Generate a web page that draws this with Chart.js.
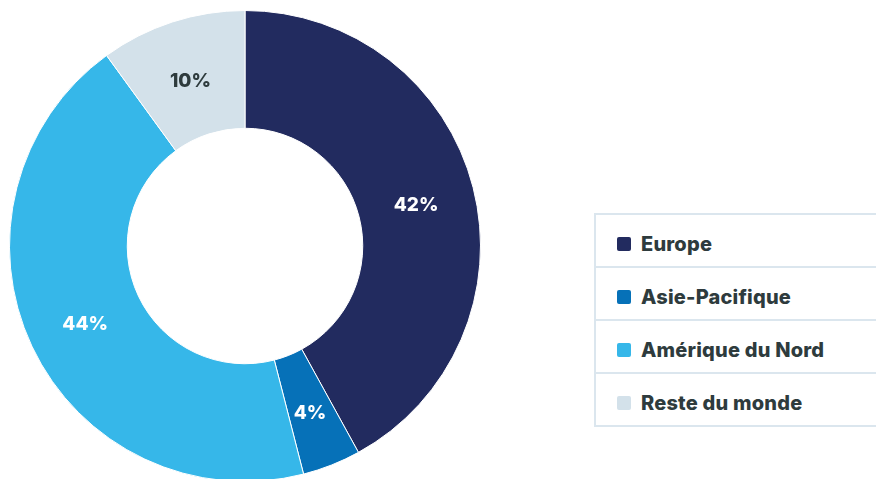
<!DOCTYPE html>
<html lang="fr">
<head>
<meta charset="utf-8">
<script src="https://cdn.jsdelivr.net/npm/chart.js"></script>
<style>
  html, body { margin: 0; padding: 0; background: #fff; overflow: hidden; }
  body { width: 876px; height: 479px; position: relative; font-family: "Inter", "Open Sans", sans-serif; }
  #wrap { position: absolute; left: 9px; top: 10px; width: 472px; height: 472px; }
  #legend {
    position: absolute; left: 594px; top: 213px; width: 290px;
    border: 2px solid #dbe6ee; border-right: none;
  }
  .row {
    height: 45px; display: flex; align-items: center;
    border-top: 2px solid #dbe6ee; padding-left: 21px; padding-top: 6px;
    font-weight: 800; font-size: 20px; color: #2e3b3d; letter-spacing: 0.2px;
  }
  .row:first-child { border-top: none; }
  .sw { width: 14px; height: 14px; border-radius: 2px; margin-right: 10px; flex: none; }
</style>
</head>
<body>
<div id="wrap"><canvas id="donut"></canvas></div>
<div id="legend"></div>
<script>
// Regions and their share
const regions = ['Europe', 'Asie-Pacifique', 'Amérique du Nord', 'Reste du monde'];
const shares = [42, 4, 44, 10];
const colors = ['#222b5f', '#0671b8', '#36b7e9', '#d3e1ea'];
const labelColors = ['#ffffff', '#ffffff', '#ffffff', '#2e3b3d'];

// Draw percent labels in the middle of each arc
const arcLabels = {
  id: 'arcLabels',
  afterDatasetsDraw(chart) {
    const ctx = chart.ctx;
    const meta = chart.getDatasetMeta(0);
    ctx.save();
    ctx.font = '800 19px "Inter", "Open Sans", sans-serif';
    ctx.textAlign = 'center';
    ctx.textBaseline = 'middle';
    meta.data.forEach((arc, i) => {
      const p = arc.tooltipPosition();
      ctx.fillStyle = labelColors[i];
      ctx.fillText(shares[i] + '%', p.x, p.y + 3);
    });
    ctx.restore();
  }
};

new Chart(document.getElementById('donut'), {
  type: 'doughnut',
  data: {
    labels: regions,
    datasets: [{
      data: shares,
      backgroundColor: colors,
      borderColor: '#ffffff',
      borderWidth: 1
    }]
  },
  options: {
    responsive: true,
    maintainAspectRatio: false,
    animation: false,
    cutout: '50%',
    layout: { padding: 0 },
    plugins: {
      legend: { display: false },
      tooltip: { enabled: false }
    }
  },
  plugins: [arcLabels]
});

// HTML legend
const legend = document.getElementById('legend');
regions.forEach((name, i) => {
  const row = document.createElement('div');
  row.className = 'row';
  const sw = document.createElement('span');
  sw.className = 'sw';
  sw.style.background = colors[i];
  row.appendChild(sw);
  row.appendChild(document.createTextNode(name));
  legend.appendChild(row);
});
</script>
</body>
</html>
